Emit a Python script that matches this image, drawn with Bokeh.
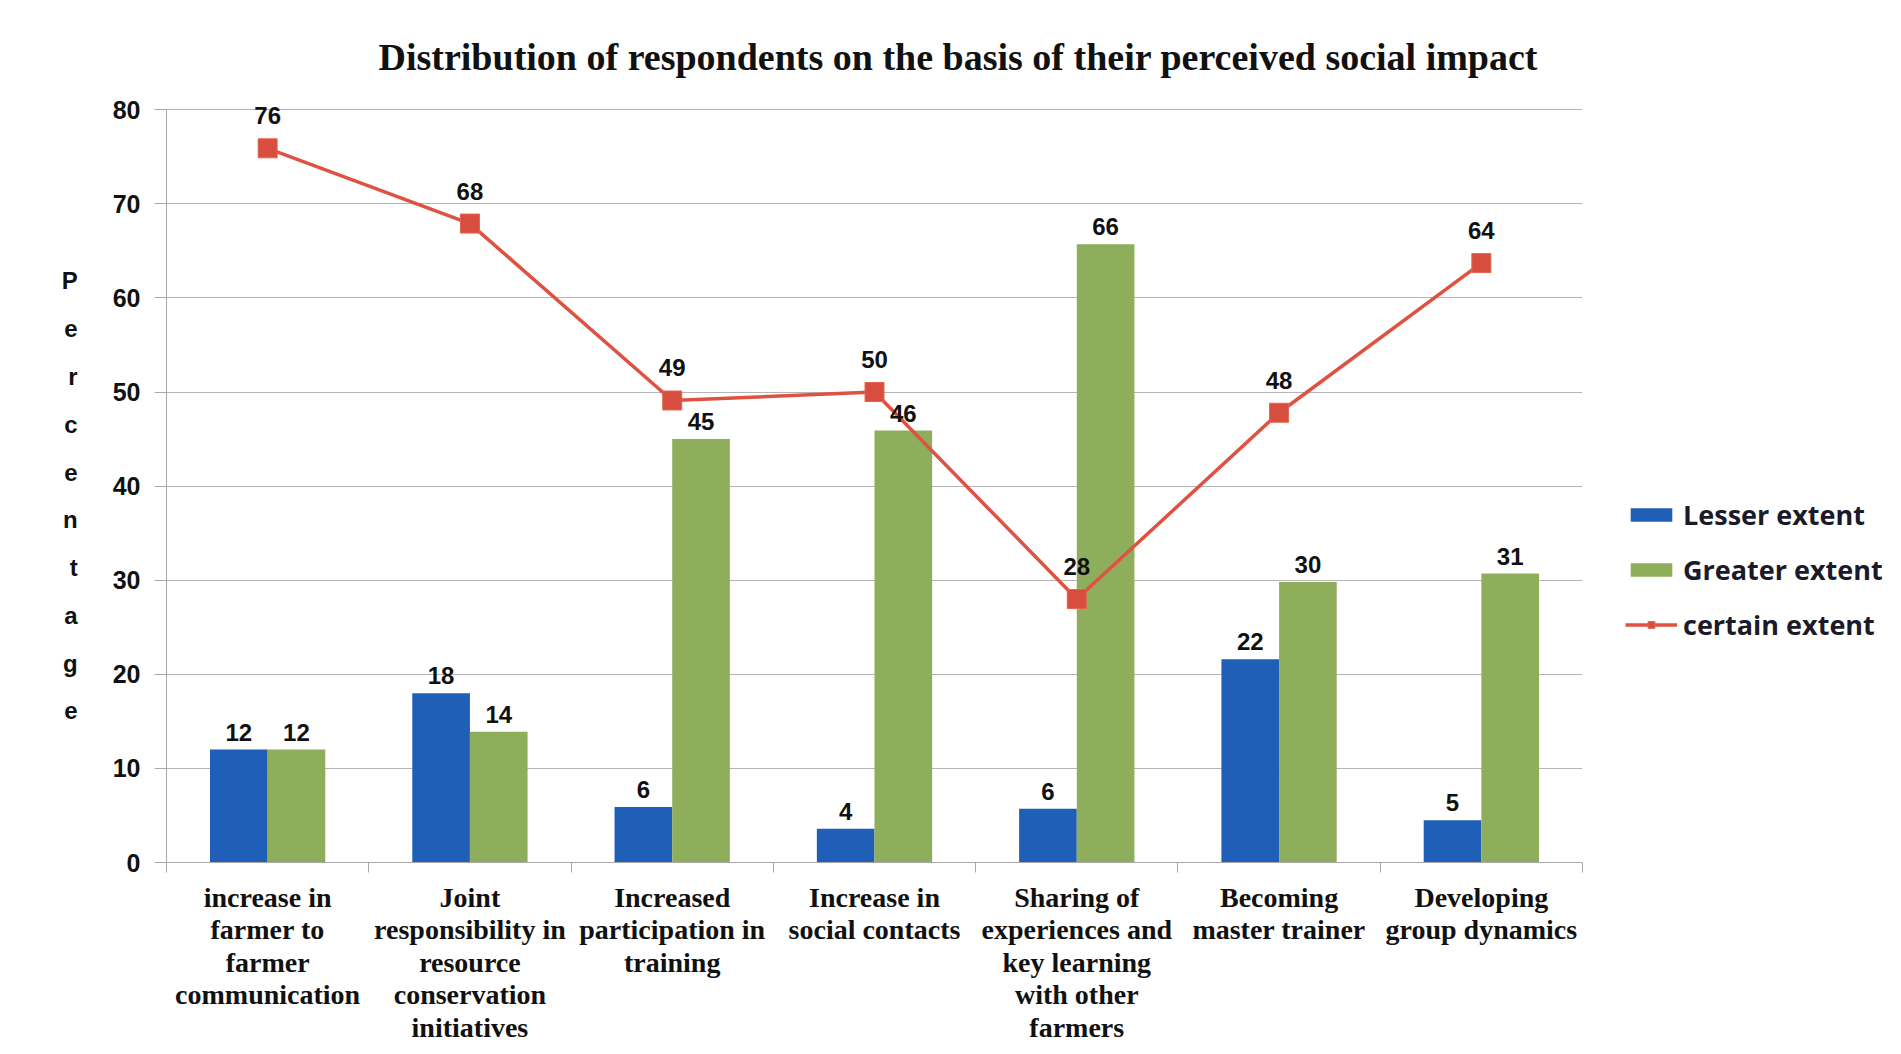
import numpy as np
from bokeh.plotting import figure
from bokeh.models import (ColumnDataSource, FixedTicker, Legend, LegendItem, Range1d)
from bokeh.core.properties import value
from bokeh.embed import file_html
from bokeh.resources import INLINE

# ---- data ----
categories = [
    "increase in\nfarmer to\nfarmer\ncommunication",
    "Joint\nresponsibility in\nresource\nconservation\ninitiatives",
    "Increased\nparticipation in\ntraining",
    "Increase in\nsocial contacts",
    "Sharing of\nexperiences and\nkey learning\nwith other\nfarmers",
    "Becoming\nmaster trainer",
    "Developing\ngroup dynamics",
]
lesser = [12.0, 18.0, 5.9, 3.6, 5.7, 21.6, 4.5]
greater = [12.0, 13.9, 45.0, 45.9, 65.7, 29.8, 30.7]
certain = [75.9, 67.9, 49.1, 50.0, 28.0, 47.8, 63.7]
y_ticks = [0, 10, 20, 30, 40, 50, 60, 70, 80]
title_text = "Distribution of respondents on the basis of their perceived social impact"
y_label = "Percentage"
series_names = ["Lesser extent", "Greater extent", "certain extent"]

BLUE = "#1F5FB8"
GREEN = "#8FAE5C"
RED = "#DF5141"


def fmt(v):
    return str(int(v + 0.5))


n = len(categories)
xc = np.arange(n) + 0.5
bw = 0.285

src = ColumnDataSource(dict(
    xl=xc - bw / 2, xg=xc + bw / 2, xc=xc,
    lesser=lesser, greater=greater, certain=certain,
    ll=[fmt(v) for v in lesser], gl=[fmt(v) for v in greater], cl=[fmt(v) for v in certain],
))

p = figure(
    width=1885, height=1042,
    frame_width=1416, frame_height=781,
    min_border_left=166, min_border_right=303, min_border_top=81, min_border_bottom=180,
    x_range=Range1d(0, n), y_range=Range1d(0, 83),
    output_backend="svg", toolbar_location=None,
    background_fill_color="white", border_fill_color="white",
)
p.outline_line_color = None

p.title.text = title_text
p.title.text_font = "Liberation Serif"
p.title.text_font_style = "bold"
p.title.text_font_size = "38px"
p.title.text_color = "#111111"
p.title.align = "left"
p.title.offset = 212
p.title.standoff = 8

r_l = p.vbar(x="xl", top="lesser", width=bw, source=src, color=BLUE, line_color=None)
r_g = p.vbar(x="xg", top="greater", width=bw, source=src, color=GREEN, line_color=None)
r_c = p.line(x="xc", y="certain", source=src, line_color=RED, line_width=3.5)
r_m = p.scatter(x="xc", y="certain", source=src, marker="square", size=19,
                fill_color="#D84E3E", line_color="#E26452", line_width=1)

lab_kw = dict(text_font=value("Liberation Sans"), text_font_style="bold",
              text_font_size="24px", text_color="#111111",
              text_align="center", text_baseline="bottom")
p.text(x="xl", y="lesser", text="ll", source=src, y_offset=-9, **lab_kw)
p.text(x="xg", y="greater", text="gl", source=src, y_offset=-9, **lab_kw)
p.text(x="xc", y="certain", text="cl", source=src, y_offset=-24, **lab_kw)

# axes
p.xgrid.grid_line_color = None
p.ygrid.grid_line_color = "#B5B5B5"
p.ygrid.grid_line_width = 1.2
p.ygrid.ticker = FixedTicker(ticks=y_ticks)

p.yaxis.ticker = FixedTicker(ticks=y_ticks)
p.yaxis.bounds = (0, 80)
p.yaxis.axis_line_color = "#A8A8A8"
p.yaxis.major_tick_line_color = "#A8A8A8"
p.yaxis.major_tick_out = 12
p.yaxis.major_tick_in = 0
p.yaxis.minor_tick_line_color = None
p.yaxis.major_label_standoff = 14
p.yaxis.major_label_text_font = "Liberation Sans"
p.yaxis.major_label_text_font_style = "bold"
p.yaxis.major_label_text_font_size = "25px"
p.yaxis.major_label_text_color = "#111111"

# stacked, upright y-axis title
p.yaxis.axis_label = "\n" + "\n".join(list(y_label))
p.yaxis.axis_label_orientation = "horizontal"
p.yaxis.axis_label_standoff = 32
p.yaxis.axis_label_text_font = "Liberation Sans"
p.yaxis.axis_label_text_font_style = "bold"
p.yaxis.axis_label_text_font_size = "24px"
p.yaxis.axis_label_text_color = "#111111"
p.yaxis.axis_label_text_line_height = 1.77
p.yaxis.axis_label_text_align = "center"

p.xaxis.ticker = FixedTicker(ticks=list(xc), minor_ticks=list(range(n + 1)))
p.xaxis.major_label_overrides = {float(x): c for x, c in zip(xc, categories)}
p.xaxis.axis_line_color = "#A8A8A8"
p.xaxis.major_tick_line_color = None
p.xaxis.minor_tick_line_color = "#A8A8A8"
p.xaxis.minor_tick_out = 10
p.xaxis.minor_tick_in = 0
p.xaxis.major_label_standoff = 9
p.xaxis.major_label_text_font = "Liberation Serif"
p.xaxis.major_label_text_font_style = "bold"
p.xaxis.major_label_text_font_size = "28px"
p.xaxis.major_label_text_line_height = 1.05
p.xaxis.major_label_text_color = "#111111"
p.xaxis.major_label_text_align = "center"

legend = Legend(items=[
    LegendItem(label=series_names[0], renderers=[r_l]),
    LegendItem(label=series_names[1], renderers=[r_g]),
    LegendItem(label=series_names[2], renderers=[r_c, r_m]),
], location=(43, 219))
legend.border_line_color = None
legend.background_fill_alpha = 0
legend.padding = 0
legend.margin = 0
legend.spacing = 18
legend.glyph_width = 52
legend.glyph_height = 17
legend.label_height = 26
legend.label_standoff = 6
legend.label_text_font = "Open Sans"
legend.label_text_font_style = "bold"
legend.label_text_font_size = "27px"
legend.label_text_color = "#1A1A2A"
p.add_layout(legend, "right")

open("out.html", "w").write(file_html(p, INLINE))
